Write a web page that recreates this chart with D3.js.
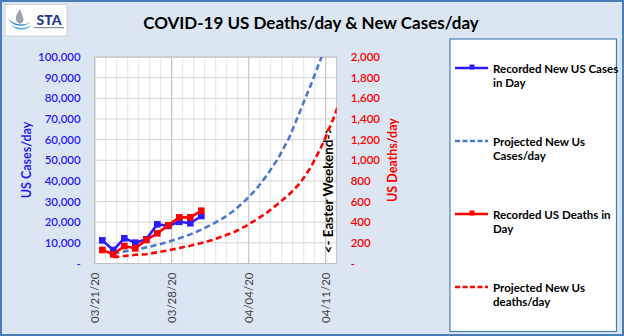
<!DOCTYPE html>
<html>
<head>
<meta charset="utf-8">
<script src="https://cdn.jsdelivr.net/npm/d3@7"></script>
<style>
  body { margin: 0; }
  svg { display: block; font-family: Lato, "Open Sans", sans-serif; }
</style>
</head>
<body>
<svg id="chart" width="624" height="336"></svg>
<script>
// recorded values, one per day starting 03/22/20
const recordedDates = ['2020-03-22','2020-03-23','2020-03-24','2020-03-25','2020-03-26',
                       '2020-03-27','2020-03-28','2020-03-29','2020-03-30','2020-03-31'];
const recordedCases = [11200, 6500, 12200, 10100, 11700, 19000, 18200, 20200, 19500, 23000];
const recordedDeaths = [131, 89, 169, 147, 228, 292, 370, 447, 447, 511];

// projection, one per day starting 03/23/20
const projectedDates = ['2020-03-23','2020-03-24','2020-03-25','2020-03-26','2020-03-27','2020-03-28',
                        '2020-03-29','2020-03-30','2020-03-31','2020-04-01','2020-04-02','2020-04-03',
                        '2020-04-04','2020-04-05','2020-04-06','2020-04-07','2020-04-08','2020-04-09',
                        '2020-04-10','2020-04-11','2020-04-12','2020-04-13'];
const projectedCases = [4900, 5800, 6700, 7800, 9000, 10500, 12200, 14100, 16400, 19000, 22000, 25700,
                        30500, 36000, 43000, 51000, 61000, 74000, 87000, 101000, 117000, 136000];
const projectedDeaths = [60, 72, 84, 90, 108, 128, 150, 172, 198, 228, 265, 305,
                         360, 425, 495, 580, 670, 780, 940, 1150, 1400, 1700];

const dateLabels = ['03/21/20', '03/28/20', '04/04/20', '04/11/20'];
const casesTicks = d3.range(0, 100001, 10000);
const deathsTicks = d3.range(0, 2001, 200);

const legendItems = [
  { lines: ['Recorded New US Cases', 'in Day'], color: '#2b1cff', dash: null, marker: true },
  { lines: ['Projected  New Us', 'Cases/day'], color: '#4a78cc', dash: '4,2', marker: false },
  { lines: ['Recorded US Deaths in', 'Day'], color: '#ff0000', dash: null, marker: true },
  { lines: ['Projected  New Us', 'deaths/day'], color: '#ff0000', dash: '4,2', marker: false }
];

const parse = d3.timeParse('%Y-%m-%d');
const parseLabel = d3.timeParse('%m/%d/%y');
const shift = 0.31 * 864e5; // points sit a bit left of the date gridline

const svg = d3.select('#chart');
const W = 624, H = 336;

svg.append('rect').attr('width', W).attr('height', H).attr('fill', '#dce6f2');
svg.append('rect').attr('x', 1).attr('y', 1).attr('width', W - 2).attr('height', H - 2)
  .attr('fill', 'none').attr('stroke', '#4a7ebb').attr('stroke-width', 2);

// logo
const logo = svg.append('g');
logo.append('rect').attr('x', 5).attr('y', 4.5).attr('width', 62).attr('height', 31.5)
  .attr('fill', '#fff').attr('stroke', '#d0d0d0');
logo.append('path').attr('d', 'M20,9 C16,15 14,19 18,23 C21,25 25,22 23,17 Z').attr('fill', '#9aa4ae');
logo.append('path').attr('d', 'M8,19 C14,27 24,28 32,21 C26,26 16,26 8,19 Z').attr('fill', '#1a7fd0');
logo.append('path').attr('d', 'M11,25 C17,31 26,31 32,25 C26,29 18,29 11,25 Z').attr('fill', '#40a8e8');
logo.append('text').attr('x', 49).attr('y', 24.5).attr('text-anchor', 'middle')
  .attr('font-size', 14).attr('font-weight', 900)
  .attr('fill', '#1d3a8a').text('STA');
logo.append('rect').attr('x', 34).attr('y', 27).attr('width', 30).attr('height', 1.2).attr('fill', '#8090a0');

// title
svg.append('text').attr('x', 311).attr('y', 29).attr('text-anchor', 'middle')
  .attr('font-size', 17).attr('font-weight', 700).attr('fill', '#000')
  .text('COVID-19 US Deaths/day & New Cases/day');

// scales
const plot = { left: 94.7, right: 336.7, top: 57, bottom: 263.5 };
const x = d3.scaleTime()
  .domain([new Date(2020, 2, 21), new Date(2020, 3, 12)])
  .range([plot.left, plot.right]);
const yCases = d3.scaleLinear().domain([0, 100000]).range([plot.bottom, plot.top]);
const yDeaths = d3.scaleLinear().domain([0, 2000]).range([plot.bottom, plot.top]);

svg.append('rect').attr('x', plot.left).attr('y', plot.top)
  .attr('width', plot.right - plot.left).attr('height', plot.bottom - plot.top)
  .attr('fill', '#fff');

const grid = svg.append('g');
grid.selectAll('.vminor').data(d3.timeDay.range(x.domain()[0], x.domain()[1]))
  .enter().append('line')
  .attr('x1', d => x(d)).attr('x2', d => x(d))
  .attr('y1', plot.top).attr('y2', plot.bottom)
  .attr('stroke', '#e4e4e4').attr('stroke-width', 1);
grid.selectAll('.hline').data(casesTicks.slice(1))
  .enter().append('line')
  .attr('x1', plot.left).attr('x2', plot.right)
  .attr('y1', d => yCases(d)).attr('y2', d => yCases(d))
  .attr('stroke', '#d4d4d4').attr('stroke-width', 1);
grid.selectAll('.vmajor').data(dateLabels.map(parseLabel))
  .enter().append('line')
  .attr('x1', d => x(d)).attr('x2', d => x(d))
  .attr('y1', plot.top).attr('y2', plot.bottom)
  .attr('stroke', '#c8c8c8').attr('stroke-width', 1.2);
svg.append('rect').attr('x', plot.left).attr('y', plot.top)
  .attr('width', plot.right - plot.left).attr('height', plot.bottom - plot.top)
  .attr('fill', 'none').attr('stroke', '#bfbfbf');

// axes
const fmtTick = d => d === 0 ? '-' : d3.format(',')(d);
const leftAxis = svg.append('g').attr('transform', `translate(${plot.left},0)`)
  .call(d3.axisLeft(yCases).tickValues(casesTicks).tickFormat(fmtTick).tickSize(0).tickPadding(14));
const rightAxis = svg.append('g').attr('transform', `translate(${plot.right},0)`)
  .call(d3.axisRight(yDeaths).tickValues(deathsTicks).tickFormat(fmtTick).tickSize(0).tickPadding(14));
leftAxis.selectAll('text').attr('fill', '#2b1cff');
rightAxis.selectAll('text').attr('fill', '#ff0000');
[leftAxis, rightAxis].forEach(a => {
  a.select('.domain').remove();
  a.selectAll('text').attr('font-family', 'Lato, sans-serif').attr('font-size', 11.5).attr('font-weight', 600);
});

const bottomAxis = svg.append('g').attr('transform', `translate(0,${plot.bottom})`)
  .call(d3.axisBottom(x).tickValues(dateLabels.map(parseLabel)).tickFormat(d3.timeFormat('%m/%d/%y')).tickSize(0));
bottomAxis.select('.domain').remove();
bottomAxis.selectAll('text')
  .attr('font-family', 'Lato, sans-serif').attr('font-size', 11.5).attr('fill', '#404040')
  .attr('transform', 'rotate(-90)').attr('text-anchor', 'end')
  .attr('x', -9).attr('y', 0).attr('dy', '0.35em');

svg.append('text').attr('transform', 'translate(31,160) rotate(-90)').attr('text-anchor', 'middle')
  .attr('font-size', 12.5).attr('font-weight', 700).attr('fill', '#2b1cff').text('US Cases/day');
svg.append('text').attr('transform', 'translate(397,160) rotate(-90)').attr('text-anchor', 'middle')
  .attr('font-size', 12.5).attr('font-weight', 700).attr('fill', '#ff0000').text('US Deaths/day');
svg.append('text').attr('transform', 'translate(332.5,190) rotate(-90)').attr('text-anchor', 'middle')
  .attr('font-size', 13.5).attr('font-weight', 700).attr('fill', '#000').text('<- Easter Weekend->');

// series
svg.append('clipPath').attr('id', 'clip').append('rect')
  .attr('x', plot.left).attr('y', plot.top)
  .attr('width', plot.right - plot.left).attr('height', plot.bottom - plot.top);

const px = s => x(new Date(parse(s).getTime() - shift));
const series = svg.append('g').attr('clip-path', 'url(#clip)');

function drawLine(dates, values, yScale, color, dash) {
  const line = d3.line().x((d, i) => px(dates[i])).y(d => yScale(d));
  series.append('path').datum(values)
    .attr('d', line).attr('fill', 'none')
    .attr('stroke', color).attr('stroke-width', 2.6)
    .attr('stroke-dasharray', dash);
}
function drawMarkers(dates, values, yScale, color) {
  series.selectAll(null).data(values).enter().append('rect')
    .attr('x', (d, i) => px(dates[i]) - 3.3).attr('y', d => yScale(d) - 3.3)
    .attr('width', 6.6).attr('height', 6.6).attr('fill', color);
}

drawLine(projectedDates, projectedCases, yCases, '#4a78cc', '6,3.5');
drawLine(projectedDates, projectedDeaths, yDeaths, '#ff0000', '6,3.5');
drawLine(recordedDates, recordedCases, yCases, '#2b1cff', null);
drawMarkers(recordedDates, recordedCases, yCases, '#2b1cff');
drawLine(recordedDates, recordedDeaths, yDeaths, '#ff0000', null);
drawMarkers(recordedDates, recordedDeaths, yDeaths, '#ff0000');

// legend
const legend = svg.append('g');
legend.append('rect').attr('x', 450).attr('y', 39).attr('width', 166.5).attr('height', 292.5)
  .attr('fill', '#fff').attr('stroke', '#4a7ebb').attr('stroke-width', 1.2);
legendItems.forEach((item, i) => {
  const yy = 68 + i * 73;
  const g = legend.append('g');
  g.append('line').attr('x1', 455).attr('x2', 488).attr('y1', yy).attr('y2', yy)
    .attr('stroke', item.color).attr('stroke-width', 2.6).attr('stroke-dasharray', item.dash ? '5,2.5' : null);
  if (item.marker) {
    g.append('rect').attr('x', 469.5).attr('y', yy - 3.5).attr('width', 5).attr('height', 5).attr('fill', item.color);
  }
  item.lines.forEach((t, j) => {
    g.append('text').attr('x', 493).attr('y', yy + 4.5 + j * 14.5)
      .attr('font-size', 11.5).attr('font-weight', 700).attr('fill', '#000').text(t);
  });
});
</script>
</body>
</html>
